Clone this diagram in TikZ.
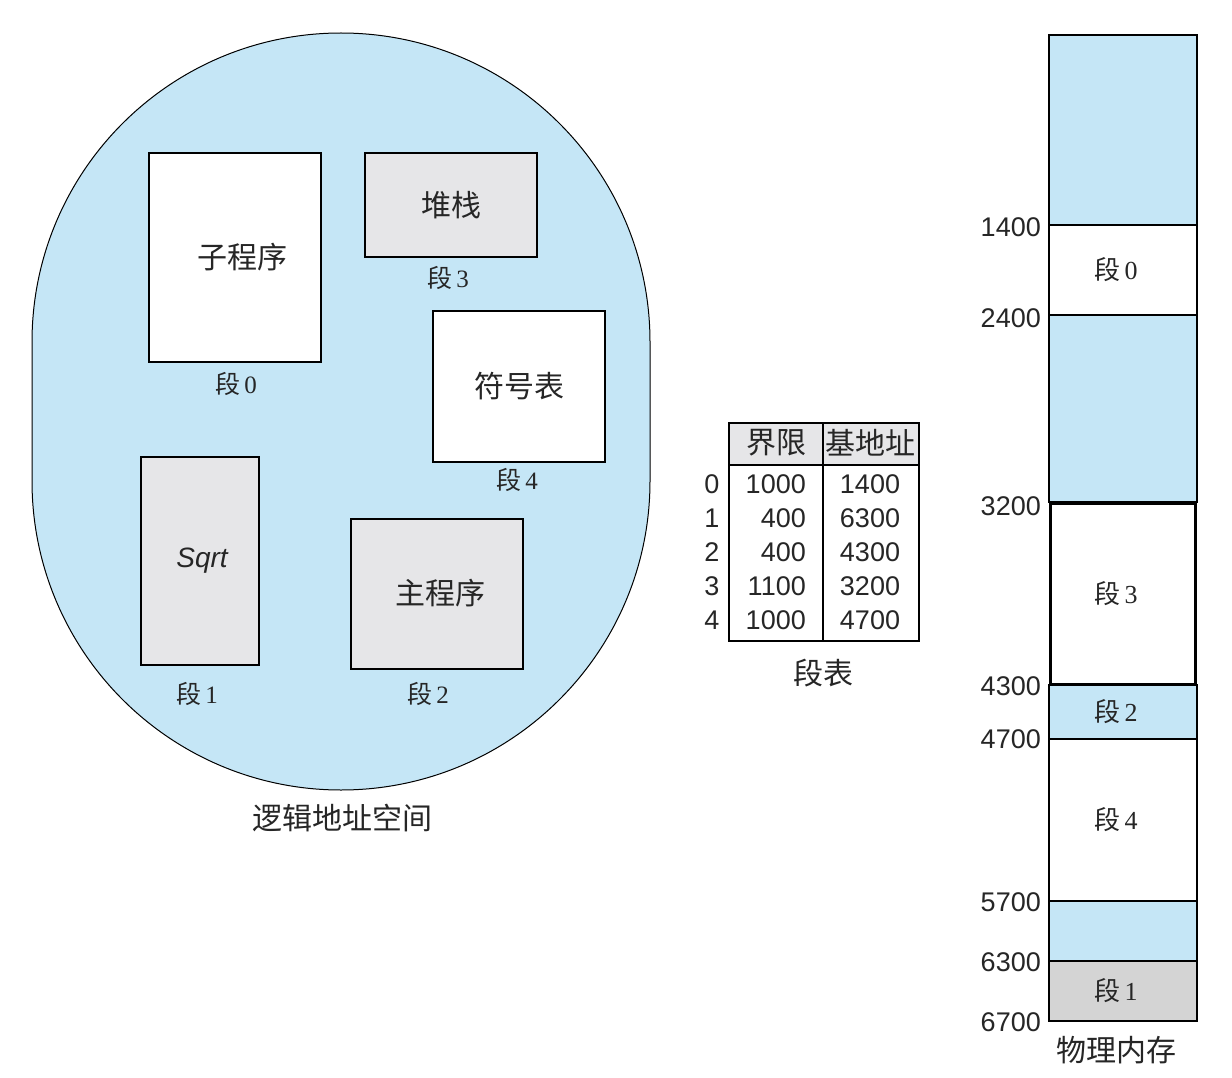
\documentclass[tikz,border=0pt]{standalone}
\usepackage{fontspec}
\setmainfont{Liberation Serif}
\setsansfont{Liberation Sans}
\newfontfamily\cjk{Noto Sans CJK SC}
\usetikzlibrary{positioning}
\definecolor{spaceblue}{RGB}{197,230,246}
\definecolor{boxgray}{RGB}{230,230,232}
\definecolor{memgray}{RGB}{212,212,212}
\newcommand\duan[1]{{\cjk 段}\,#1}

\begin{document}
\begin{tikzpicture}[
  x=1pt, y=-1pt,
  every node/.style={inner sep=0pt, align=center, text=black!85},
  segbox/.style={draw, line width=1.5pt, minimum width=172pt, font=\cjk\fontsize{30}{34}\selectfont},
  seglabel/.style={font=\fontsize{25}{28}\selectfont},
  caption/.style={font=\cjk\fontsize{30}{34}\selectfont},
  num/.style={font=\sffamily\fontsize{27}{30}\selectfont},
  memblk/.style={draw, line width=1.5pt, minimum width=148pt, font=\fontsize{26}{29}\selectfont}
]
\useasboundingbox[fill=white] (0,0) rectangle (1232,1078);

% logical address space
\draw[fill=spaceblue, line width=1pt, rounded corners=309pt] (32,33) rectangle (650,790);
\node[segbox, fill=white, minimum height=209pt] (sub) at (235,257.5) {\raisebox{2pt}{\hspace*{14pt}子程序}};
\node[segbox, fill=boxgray, minimum height=104pt] (stack) at (451,205) {堆栈};
\node[segbox, fill=white, minimum height=151pt] (symtab) at (519,386.5) {符号表};
\node[segbox, fill=boxgray, minimum width=118pt, minimum height=208pt,
  font=\sffamily\itshape\fontsize{28}{32}\selectfont] (sqrt) at (200,561) {\raisebox{-4pt}{\hspace*{4pt}Sqrt}};
\node[segbox, fill=boxgray, minimum height=150pt] (main) at (437,594) {\raisebox{5pt}{\hspace*{6pt}主程序}};
\node[seglabel] (lsub) at (236,384) {\duan 0};
\node[seglabel] (lstack) at (448,278) {\duan 3};
\node[seglabel] (lsymtab) at (517,480) {\duan 4};
\node[seglabel] (lsqrt) at (197,694) {\duan 1};
\node[seglabel] (lmain) at (428,694) {\duan 2};
\node[caption] (logical) at (342,818) {逻辑地址空间};

% segment table
\fill[boxgray] (729,423) rectangle (919,465);
\draw[line width=1.5pt] (729,423) rectangle (919,641);
\draw[line width=1.5pt] (729,465) -- (919,465);
\draw[line width=1.5pt] (823,423) -- (823,641);
\node[caption] (hlimit) at (776,443) {界限};
\node[caption] (hbase) at (870,443) {基地址};
\node[num] (r0) at (712,484) {0};
\node[num] (r1) at (712,518) {1};
\node[num] (r2) at (712,552) {2};
\node[num] (r3) at (712,586) {3};
\node[num] (r4) at (712,620) {4};
\node[num, anchor=east] (lim0) at (806,484) {1000};
\node[num, anchor=east] (lim1) at (806,518) {400};
\node[num, anchor=east] (lim2) at (806,552) {400};
\node[num, anchor=east] (lim3) at (806,586) {1100};
\node[num, anchor=east] (lim4) at (806,620) {1000};
\node[num] (base0) at (870,484) {1400};
\node[num] (base1) at (870,518) {6300};
\node[num] (base2) at (870,552) {4300};
\node[num] (base3) at (870,586) {3200};
\node[num] (base4) at (870,620) {4700};
\node[caption] (segtab) at (823,673) {段表};

% physical memory
\node[memblk, fill=spaceblue, minimum height=190pt] (free0) at (1123,130) {};
\node[memblk, fill=white, minimum height=90pt] (mseg0) at (1123,270) {\duan 0\hspace*{14pt}};
\node[memblk, fill=spaceblue, minimum height=187pt] (free1) at (1123,408.5) {};
\node[memblk, fill=white, minimum width=145pt, minimum height=181pt, line width=3pt] (mseg3) at (1123,593.5) {\duan 3\hspace*{14pt}};
\node[memblk, fill=spaceblue, minimum height=54pt] (mseg2) at (1123,712) {\duan 2\hspace*{14pt}};
\node[memblk, fill=white, minimum height=162pt] (mseg4) at (1123,820) {\duan 4\hspace*{14pt}};
\node[memblk, fill=spaceblue, minimum height=60pt] (free2) at (1123,931) {};
\node[memblk, fill=memgray, minimum height=60pt] (mseg1) at (1123,991) {\duan 1\hspace*{14pt}};
\node[num, anchor=east] (a1400) at (1041,227) {1400};
\node[num, anchor=east] (a2400) at (1041,318) {2400};
\node[num, anchor=east] (a3200) at (1041,506) {3200};
\node[num, anchor=east] (a4300) at (1041,686) {4300};
\node[num, anchor=east] (a4700) at (1041,739) {4700};
\node[num, anchor=east] (a5700) at (1041,902) {5700};
\node[num, anchor=east] (a6300) at (1041,962) {6300};
\node[num, anchor=east] (a6700) at (1041,1022) {6700};
\node[caption] (physical) at (1116,1050) {物理内存};
\end{tikzpicture}
\end{document}
